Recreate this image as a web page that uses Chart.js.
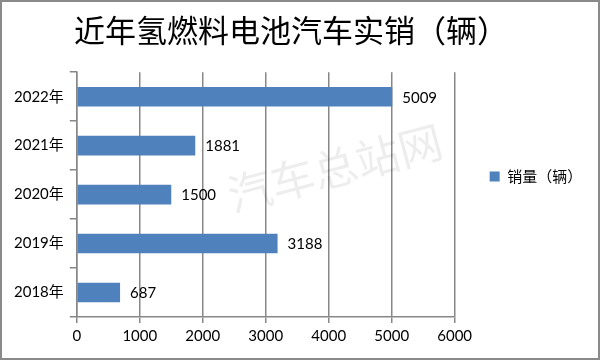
<!DOCTYPE html>
<html><head><meta charset="utf-8">
<script src="https://cdn.jsdelivr.net/npm/chart.js@4/dist/chart.umd.min.js"></script>
<style>html,body{margin:0;padding:0;background:#fff}#wrap{width:600px;height:360px}</style>
</head><body><div id="wrap"><canvas id="c" width="600" height="360"></canvas></div>
<script>
const categories = ['2022年','2021年','2020年','2019年','2018年'];
const sales = [5009, 1881, 1500, 3188, 687];
const xTicks = [0,1000,2000,3000,4000,5000,6000];
const seriesName = '销量（辆）';
const titleText = '近年氢燃料电池汽车实销（辆）';
const watermark = '汽车总站网';

const latin = "Lato, 'Noto Sans CJK SC', sans-serif";
const grid = '#878787';

const extras = {
  id:'extras',
  beforeDatasetsDraw(chart){
    const {ctx} = chart;
    ctx.save();
    ctx.translate(335,168);
    ctx.rotate(-0.26);
    ctx.font = "44px 'Noto Sans CJK SC'";
    ctx.fillStyle = 'rgba(0,0,0,0.07)';
    ctx.textAlign='center'; ctx.textBaseline='middle';
    ctx.fillText(watermark,0,0);
    ctx.restore();
  },
  afterDatasetsDraw(chart){
    const {ctx} = chart;
    const meta = chart.getDatasetMeta(0);
    ctx.save();
    ctx.font = "15px " + latin;
    ctx.fillStyle = '#000';
    ctx.textAlign='left'; ctx.textBaseline='middle';
    meta.data.forEach((el,i)=>{
      ctx.fillText(String(chart.data.datasets[0].data[i]), el.x+10, el.y+1);
    });
    ctx.restore();
  },
  afterDraw(chart){
    const {ctx} = chart;
    ctx.save();
    ctx.strokeStyle='#8a8a8a'; ctx.lineWidth=2;
    ctx.strokeRect(1,1,598,358);
    ctx.restore();
  }
};

new Chart(document.getElementById('c'), {
  type:'bar',
  data:{labels:categories, datasets:[{label:seriesName, data:sales,
    backgroundColor:'#4F81BD', borderColor:'#4F81BD', borderWidth:0,
    categoryPercentage:1, barPercentage:0.4}]},
  options:{
    indexAxis:'y', responsive:false, animation:false,
    layout:{padding:{left:8,right:26,top:4,bottom:11}},
    plugins:{
      title:{display:true, text:titleText, color:'#000',
        font:{family:"'Noto Sans CJK SC'", size:31, weight:'normal', lineHeight:1.2},
        padding:{top:8,bottom:23}},
      legend:{position:'right', labels:{boxWidth:10, boxHeight:10, color:'#000',
        font:{family:"'Noto Sans CJK SC'", size:15}, padding:10}},
      tooltip:{enabled:false}
    },
    scales:{
      x:{min:0,max:6000,
        afterBuildTicks(s){ s.ticks = xTicks.map(v=>({value:v})); },
        grid:{color:grid, lineWidth:1.5, tickLength:6, drawTicks:true},
        border:{color:grid, width:1.5},
        ticks:{color:'#000', font:{family:latin,size:15}, padding:4, callback:(v)=>String(v)}},
      y:{grid:{offset:true, drawOnChartArea:false, color:grid, lineWidth:1.5, tickLength:7},
        border:{color:grid, width:1.5},
        ticks:{color:'#000', font:{family:latin,size:15}, padding:6}},
      spacer:{type:'linear', axis:'y', position:'right', display:true,
        grid:{display:false}, border:{display:false}, ticks:{display:false},
        afterFit(s){ s.width = 25; }}
    }
  },
  plugins:[extras]
});
</script></body></html>
